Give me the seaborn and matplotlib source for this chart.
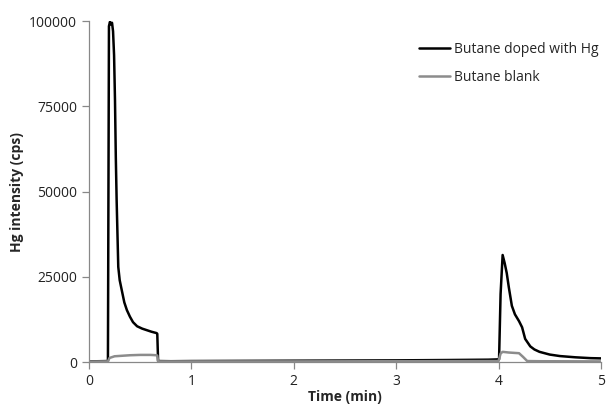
import matplotlib
matplotlib.use("Agg")
import matplotlib.pyplot as plt
import seaborn as sns
import pandas as pd

# Butane doped with Hg (time in min, intensity in cps)
doped_t = [0.0, 0.10, 0.185, 0.195, 0.205, 0.215, 0.225, 0.235, 0.245, 0.254, 0.262, 0.27,
           0.286, 0.30, 0.32, 0.345, 0.37, 0.40, 0.43, 0.47, 0.52, 0.56, 0.61, 0.66, 0.667,
           0.675, 0.8, 1.0, 1.5, 2.0, 2.5, 3.0, 3.5, 3.9, 4.005, 4.02, 4.04, 4.06, 4.08,
           4.10, 4.13, 4.16, 4.20, 4.23, 4.26, 4.31, 4.35, 4.40, 4.50, 4.60, 4.75, 4.90, 5.0]
doped_v = [200, 250, 300, 98500, 99800, 99000, 99500, 97000, 90000, 76800, 60000, 47500,
           27900, 24000, 21100, 17500, 15250, 13300, 11700, 10500, 9800, 9400, 8900, 8500, 8300,
           300, 250, 300, 350, 400, 450, 500, 600, 700, 800, 20000, 31400, 29000, 26100,
           22000, 16500, 14000, 12000, 10200, 6800, 4600, 3700, 3000, 2200, 1760, 1400, 1150, 1080]

# Butane blank
blank_t = [0.0, 0.10, 0.185, 0.20, 0.25, 0.30, 0.40, 0.50, 0.60, 0.66, 0.667, 0.675,
           1.0, 2.0, 3.0, 3.9, 4.0, 4.02, 4.04, 4.10, 4.20, 4.24, 4.28, 4.4, 5.0]
blank_v = [150, 180, 200, 1200, 1700, 1800, 2000, 2100, 2100, 2000, 1900, 200,
           200, 200, 250, 300, 300, 2500, 3000, 2800, 2600, 1500, 300, 250, 200]

series_names = ["Butane doped with Hg", "Butane blank"]

df = pd.concat([
    pd.DataFrame({"t": doped_t, "v": doped_v, "s": series_names[0]}),
    pd.DataFrame({"t": blank_t, "v": blank_v, "s": series_names[1]}),
])

sns.set_style("white")
plt.rcParams["font.family"] = ["Open Sans", "DejaVu Sans"]

fig = plt.figure(figsize=(6.07, 4.05), dpi=100)
ax = fig.add_axes([0.1466, 0.106, 0.8434, 0.842])

sns.lineplot(data=df, x="t", y="v", hue="s", hue_order=series_names,
             palette={series_names[0]: "#000000", series_names[1]: "#8c8c8c"},
             linewidth=1.8, ax=ax, sort=False, estimator=None)

ax.set_xlim(0, 5)
ax.set_ylim(0, 100000)
ax.set_xticks([0, 1, 2, 3, 4, 5])
ax.set_yticks([0, 25000, 50000, 75000, 100000])
ax.set_yticklabels(["0", "25000", "50000", "75000", "100000"])

for s in ["top", "right"]:
    ax.spines[s].set_visible(False)
for s in ["left", "bottom"]:
    ax.spines[s].set_color("#888888")
    ax.spines[s].set_linewidth(0.9)
ax.tick_params(axis="both", direction="out", length=5, width=0.9, color="#888888",
               labelsize=10, labelcolor="#222222", left=True, bottom=True)

ax.set_xlabel("Time (min)", fontsize=10, fontweight="bold", labelpad=1)
ax.set_ylabel("Hg intensity (cps)", fontsize=10, fontweight="bold", labelpad=4)

leg = ax.legend(loc="upper right", bbox_to_anchor=(1.02, 0.975), frameon=False,
                fontsize=10, handlelength=2.2, handletextpad=0.3, labelspacing=0.95)
for line in leg.get_lines():
    line.set_linewidth(1.8)

fig.savefig("out.png", dpi=100)
